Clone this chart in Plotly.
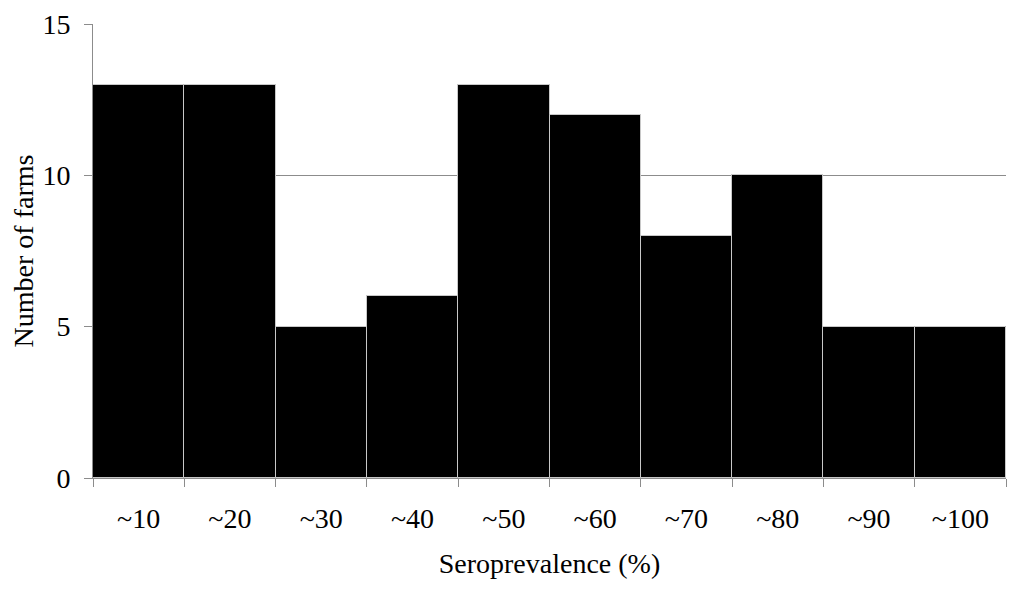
import plotly.graph_objects as go

# Seroprevalence bins and number of farms in each
categories = ["~10", "~20", "~30", "~40", "~50", "~60", "~70", "~80", "~90", "~100"]
farms = [13, 13, 5, 6, 13, 12, 8, 10, 5, 5]
y_ticks = [0, 5, 10, 15]

fig = go.Figure()

fig.add_trace(go.Bar(
    x=categories,
    y=farms,
    marker=dict(color="black", line=dict(color="#c8c8c8", width=1)),
    showlegend=False
))

font = dict(family="Liberation Serif", size=28, color="black")

fig.update_xaxes(
    title=dict(text="Seroprevalence (%)", font=font, standoff=20),
    tickfont=font,
    ticks="outside",
    tickson="boundaries",
    ticklen=8,
    tickcolor="#8c8c8c",
    showline=True,
    linecolor="#8c8c8c",
    linewidth=1,
    showgrid=False,
    ticklabelstandoff=15,
    automargin=False
)

fig.update_yaxes(
    title=dict(text="Number of farms", font=font, standoff=2),
    tickfont=font,
    range=[0, 15],
    tickvals=y_ticks,
    ticks="outside",
    ticklen=8,
    tickcolor="#8c8c8c",
    showline=True,
    linecolor="#8c8c8c",
    linewidth=1,
    showgrid=True,
    gridcolor="#8c8c8c",
    gridwidth=1,
    zeroline=False,
    ticklabelstandoff=8,
    automargin=False
)

# the page puts the figure 8px in from the corner
fig.update_layout(
    width=1008,
    height=573,
    margin=dict(l=85, r=10, t=16, b=103),
    bargap=0,
    plot_bgcolor="white",
    paper_bgcolor="white"
)

fig.write_html("out.html")
